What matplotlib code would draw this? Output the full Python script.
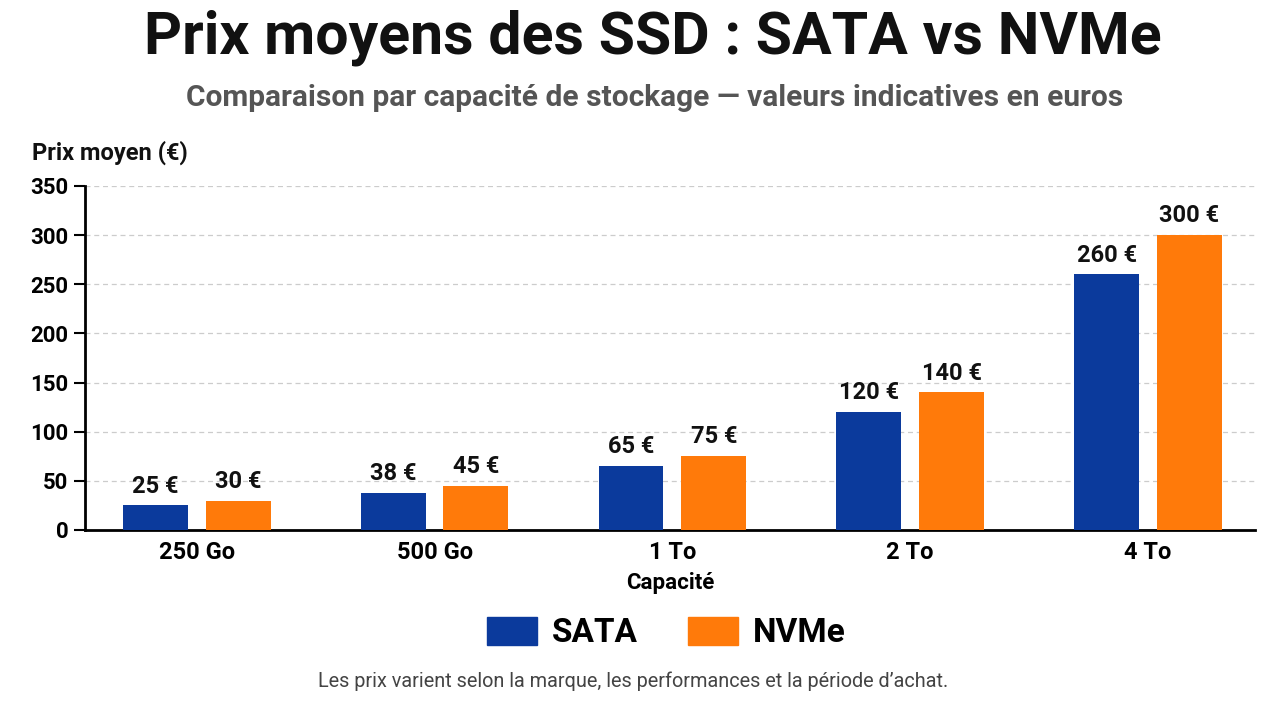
import numpy as np
import matplotlib.pyplot as plt
from matplotlib.patches import Patch

capacites = ["250 Go", "500 Go", "1 To", "2 To", "4 To"]
prix_sata = [25, 38, 65, 120, 260]
prix_nvme = [30, 45, 75, 140, 300]
y_ticks = [0, 50, 100, 150, 200, 250, 300, 350]

plt.rcParams["font.family"] = ["Roboto", "DejaVu Sans"]

fig = plt.figure(figsize=(12.8, 7.02), dpi=100)
ax = fig.add_axes([85 / 1280, 1 - 530 / 702, (1255 - 85) / 1280, (530 - 186) / 702])

x = np.arange(len(capacites))
w = 0.273
off = 0.174
b1 = ax.bar(x - off, prix_sata, w, color="#0b3a9c", zorder=3)
b2 = ax.bar(x + off, prix_nvme, w, color="#ff7a0a", zorder=3)

# étiquettes de valeur au-dessus des barres
for bars, vals in ((b1, prix_sata), (b2, prix_nvme)):
    for r, v in zip(bars, vals):
        ax.text(r.get_x() + r.get_width() / 2, v + 8, f"{v} €", ha="center", va="bottom",
                fontsize=17, fontweight="bold", color="#111111")

ax.set_xlim(-0.47, 4.45)
ax.set_ylim(0, 350)
ax.set_yticks(y_ticks)
ax.set_yticklabels([str(t) for t in y_ticks], fontsize=16, fontweight="bold")
ax.set_xticks(x)
ax.set_xticklabels(capacites, fontsize=17, fontweight="bold")
ax.tick_params(axis="y", length=8, width=1.5, pad=4)
ax.tick_params(axis="x", length=0, pad=8)
ax.grid(axis="y", linestyle=(0, (4, 3)), color="#cccccc", linewidth=0.9, zorder=0)
for s in ("top", "right"):
    ax.spines[s].set_visible(False)
ax.spines["left"].set_linewidth(2)
ax.spines["bottom"].set_linewidth(2)
ax.set_xlabel("Capacité", fontsize=16, fontweight="bold", labelpad=6)

fig.text(653 / 1280, 1 - 38 / 702, "Prix moyens des SSD : SATA vs NVMe", ha="center", va="center",
         fontsize=42.5, fontweight="bold", color="#111111")
fig.text(655 / 1280, 1 - 98 / 702, "Comparaison par capacité de stockage — valeurs indicatives en euros",
         ha="center", va="center", fontsize=21.5, fontweight="bold", color="#555555")
fig.text(32 / 1280, 1 - 153 / 702, "Prix moyen (€)", ha="left", va="center",
         fontsize=17, fontweight="bold", color="#111111")

handles = [Patch(color="#0b3a9c", label="SATA"), Patch(color="#ff7a0a", label="NVMe")]
fig.legend(handles=handles, loc="center", bbox_to_anchor=(666 / 1280, 1 - 633 / 702), ncol=2,
           frameon=False, prop={"size": 24, "weight": "bold"}, handlelength=1.5,
           handleheight=0.9, columnspacing=1.5, handletextpad=0.45)

fig.text(633 / 1280, 1 - 681 / 702, "Les prix varient selon la marque, les performances et la période d’achat.",
         ha="center", va="center", fontsize=14.3, color="#444444")

fig.savefig("out.png", dpi=100)
